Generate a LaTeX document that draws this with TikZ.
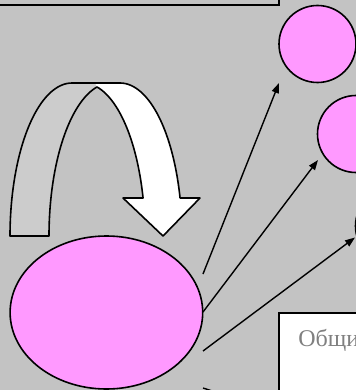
\documentclass[tikz,border=0pt]{standalone}
\usepackage{fontspec}
\setmainfont{Liberation Serif}
\usetikzlibrary{arrows.meta,shapes.geometric}
\definecolor{slidebg}{RGB}{195,195,195}
\definecolor{bandshade}{RGB}{204,204,204}
\definecolor{blob}{RGB}{255,153,255}
\definecolor{captiongray}{RGB}{128,128,128}
\begin{document}
\begin{tikzpicture}[x=0.5pt,y=-0.5pt,
  blobshape/.style={draw=black, line width=0.8pt, fill=blob, inner sep=0pt, outer sep=0pt},
  link/.style={line width=0.7pt, -{Triangle[length=5pt,width=3.6pt]}},
  outline/.style={line width=0.8pt, line join=round},
  textframe/.style={draw=black, line width=1pt, fill=white, inner sep=0pt, outer sep=0pt}]
\useasboundingbox (0,0) rectangle (356,390);
\clip (0,0) rectangle (356,390);
\fill[slidebg] (0,0) rectangle (356,390);

% title frame, mostly above the visible area
\node[draw=black, line width=1.1pt, inner sep=0pt, outer sep=0pt, anchor=south east,
      minimum width=160pt, minimum height=40pt] (title) at (279,5) {};

% circles on the right
\node[blobshape, circle, minimum size=38.5pt] (c1) at (317.5,44) {};
\node[blobshape, circle, minimum size=38.5pt] (c2) at (356,134) {};
\node[blobshape, circle, minimum size=38.5pt] (c3) at (394,226) {};

% large ellipse
\node[blobshape, ellipse, minimum width=96.3pt, minimum height=76.5pt] (src) at (106.4,312.5) {};

% text frame in the lower right corner
\node[textframe, anchor=north west, minimum width=60pt, minimum height=50pt] (box) at (279,313) {};
\node[anchor=base west, inner sep=0pt, text=captiongray, font=\fontsize{12}{14}\selectfont] (caption) at (298,346) {Общи};

% curved U-turn arrow: shaded back half
\fill[bandshade]
  plot[domain=180:90, samples=40, variable=\t] ({72+62*cos(\t)},{236-153*sin(\t)})
  -- (95,83) -- (97,86.95)
  -- plot[domain=103.05:180, samples=40, variable=\t] ({111+62*cos(\t)},{236-153*sin(\t)})
  -- cycle;
% front half with the head
\fill[white] (95,83) -- (120,83)
  -- plot[domain=90:14.4, samples=40, variable=\t] ({120+62*cos(\t)},{236-153*sin(\t)})
  -- (200,198) -- (163,236) -- (123,198) -- (143,198)
  -- plot[domain=14.4:76.95, samples=40, variable=\t] ({83+62*cos(\t)},{236-153*sin(\t)})
  -- cycle;
% outline of the whole arrow
\draw[outline]
  plot[domain=180:90, samples=40, variable=\t] ({72+62*cos(\t)},{236-153*sin(\t)})
  -- (120,83)
  -- plot[domain=90:14.4, samples=40, variable=\t] ({120+62*cos(\t)},{236-153*sin(\t)})
  -- (200,198) -- (163,236) -- (123,198) -- (143,198)
  -- plot[domain=14.4:76.95, samples=40, variable=\t] ({83+62*cos(\t)},{236-153*sin(\t)})
  -- plot[domain=103.05:180, samples=40, variable=\t] ({111+62*cos(\t)},{236-153*sin(\t)})
  -- cycle;

% connectors from the ellipse
\coordinate (s1) at (203,274);
\coordinate (s2) at (203,312);
\coordinate (s3) at (203,351);
\coordinate (s4) at (203,388);
\coordinate (t1) at (279,83);
\coordinate (t2) at (318,160);
\coordinate (t3) at (355,237.5);
\coordinate (t4) at (240,400);
\draw[link] (s1) -- (t1);
\draw[link] (s2) -- (t2);
\draw[link] (s3) -- (t3);
\draw[link] (s4) -- (t4);
\end{tikzpicture}
\end{document}
